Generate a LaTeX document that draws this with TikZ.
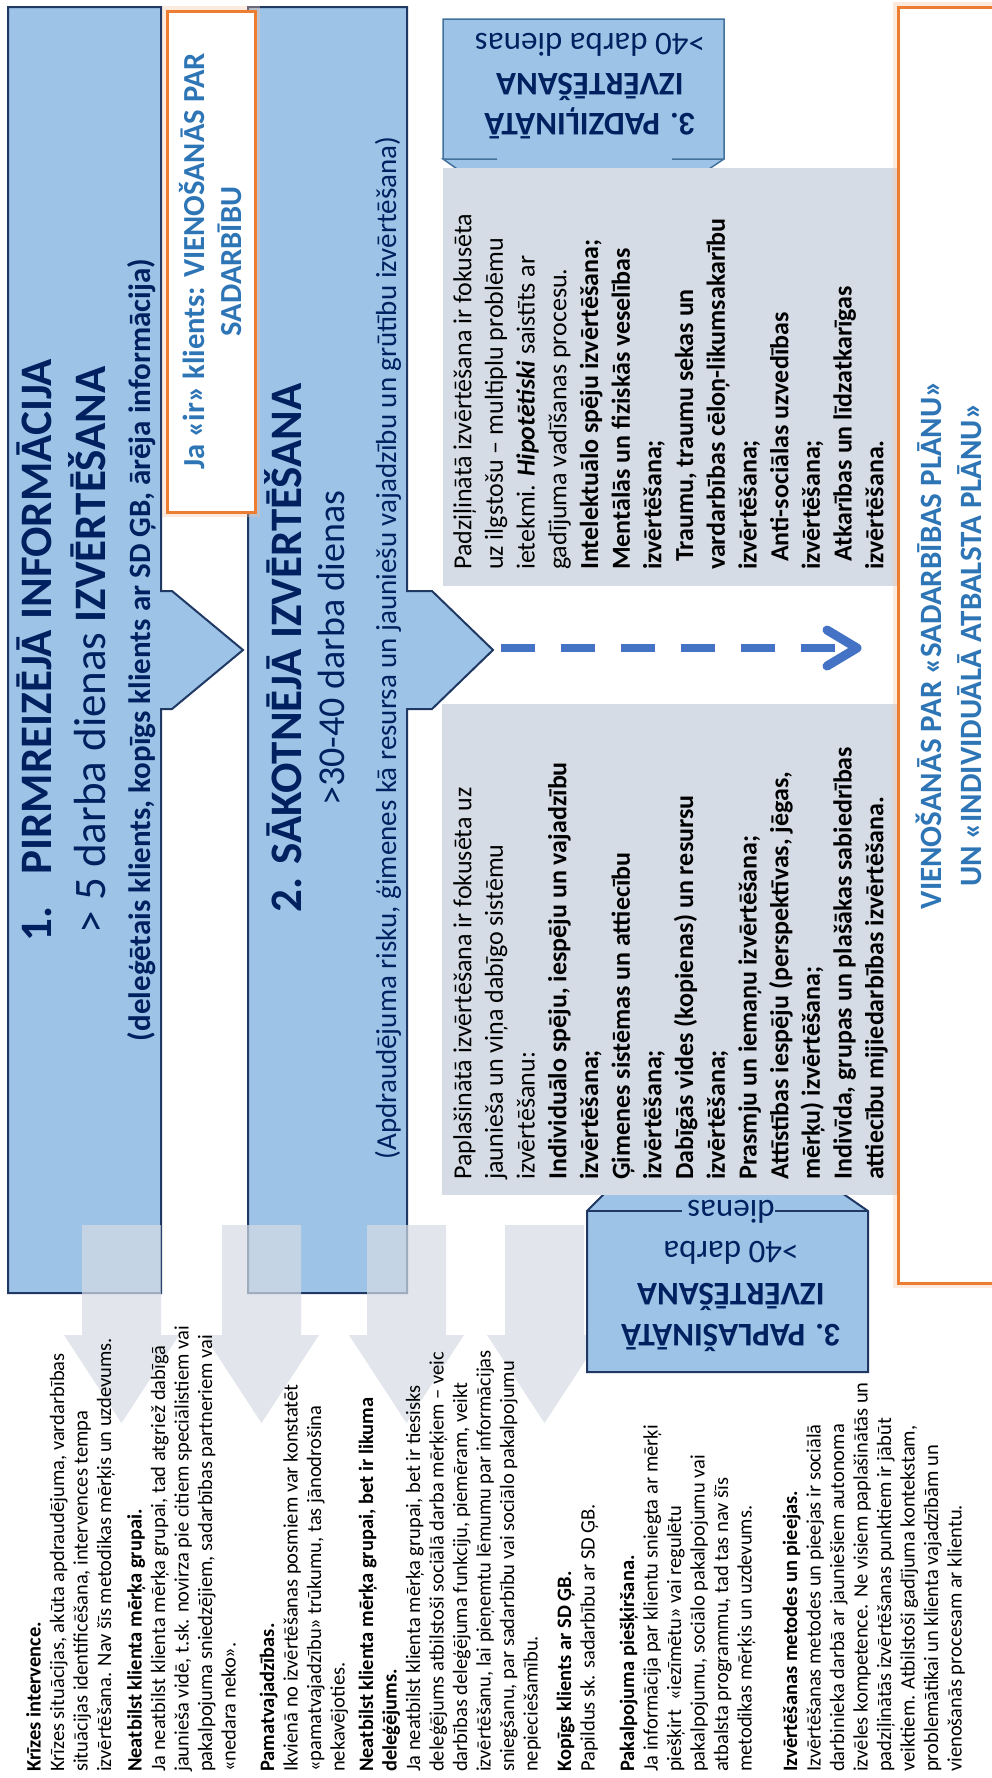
\documentclass[tikz,border=0pt]{standalone}
\usepackage{fontspec}
\setmainfont{Carlito}
\usetikzlibrary{arrows.meta}
\definecolor{boxblue}{RGB}{157,195,230}
\definecolor{boxline}{RGB}{31,56,100}
\definecolor{titlenavy}{RGB}{0,32,96}
\definecolor{steelline}{RGB}{65,113,156}
\definecolor{greyfill}{RGB}{214,220,229}
\definecolor{planorange}{RGB}{237,125,49}
\definecolor{planblue}{RGB}{46,117,182}
\definecolor{dashblue}{RGB}{68,114,196}

\begin{document}
\begin{tikzpicture}[x=1pt,y=-1pt,
  stage/.style={fill=boxblue,draw=boxline,line width=2pt},
  stagetext/.style={rotate=90,anchor=north,inner sep=0pt,align=center,text=titlenavy},
  deeptext/.style={rotate=180,inner sep=0pt,align=center,text=titlenavy},
  greybox/.style={fill=greyfill},
  greytext/.style={rotate=90,anchor=north west,inner sep=0pt,align=left,font=\fontsize{26}{31.7}\selectfont},
  orangebox/.style={rotate=90,draw=planorange,line width=3pt,fill=white,align=center,text=planblue,
    preaction={draw=planorange!45,line width=10pt,opacity=0.35}},
  downarrow/.style={fill=greyfill,opacity=0.7},
  dasharrow/.style={dashblue,line width=8pt,dash pattern=on 34pt off 26pt,
    -{Straight Barb[length=30pt,width=36pt,line width=9pt,round]}}]
  \useasboundingbox (0,0) rectangle (991,1778);
  \fill[white] (0,0) rectangle (991,1778);

  % stage 1 and 2 with their callouts
  \draw[stage] (8,7) -- (161,7) -- (161,591) -- (172,591) -- (243,650) -- (172,709) -- (161,709) -- (161,1293) -- (8,1293) -- cycle;
  \draw[stage] (248,7) -- (407,7) -- (407,591) -- (432,591) -- (493,650) -- (432,709) -- (407,709) -- (407,1293) -- (248,1293) -- cycle;
  \coordinate (tip2) at (493,648);

  \foreach \c in {121.5,261.5,406.5,544.5} % down arrows to the notes
    \fill[downarrow] ({\c-39.5},1225) -- ({\c+39.5},1225) -- ({\c+39.5},1335) -- ({\c+57.5},1335)
      -- (\c,1423) -- ({\c-57.5},1335) -- ({\c-39.5},1335) -- cycle;

  % stage 3 boxes (pointers go under the grey boxes)
  \fill[boxblue] (443,19) -- (724,19) -- (724,159) -- (706,171) -- (460,171) -- (443,159) -- cycle;
  \draw[steelline,line width=1.5pt] (443,159) -- (443,19) -- (724,19) -- (724,159) -- (706,171);
  \draw[steelline,line width=1.5pt] (460,171) -- (443,159) -- (497,159) (672,159) -- (724,159);
  \fill[boxblue] (587,1372) -- (587,1211) -- (605,1193) -- (842,1193) -- (868,1211) -- (868,1372) -- cycle;
  \draw[boxline,line width=2pt] (605,1193) -- (587,1211) -- (587,1372) -- (868,1372) -- (868,1211) -- (842,1193);
  \draw[boxline,line width=2pt] (587,1211) -- (682,1211) (775,1211) -- (868,1211);

  \fill[greybox] (443,168) rectangle (897,586);
  \fill[greybox] (442,704) rectangle (897,1195);

  \node[orangebox,minimum width=1276pt,minimum height=102pt,font=\fontsize{31}{40}\selectfont\bfseries] (plan) at (949,645)
    {VIENOŠANĀS PAR «SADARBĪBAS PLĀNU»\\UN «INDIVIDUĀLĀ ATBALSTA PLĀNU»};
  \node[orangebox,minimum width=501pt,minimum height=88pt,font=\fontsize{30.6}{37}\selectfont\bfseries] (ja) at (211,261.5)
    {Ja «ir» klients: VIENOŠANĀS PAR\\SADARBĪBU};

  \node[stagetext,font=\fontsize{45}{54}\selectfont] (pirm) at (17,650)
    {{\bfseries 1.\hspace{32pt}PIRMREIZĒJĀ INFORMĀCIJA}\\
     > 5 darba dienas \textbf{IZVĒRTĒŠANA}\\[-9pt]
     {\fontsize{31}{37}\selectfont\bfseries (deleģētais klients, kopīgs klients ar SD ĢB, ārēja informācija)}};
  \node[stagetext,font=\fontsize{38}{43}\selectfont] (sakotn) at (264,648)
    {{\fontsize{45}{54}\selectfont\bfseries 2. SĀKOTNĒJĀ IZVĒRTĒŠANA}\\
     >30-40 darba dienas\\[9pt]
     {\fontsize{29}{35}\selectfont (Apdraudējuma risku, ģimenes kā resursa un jauniešu vajadzību un grūtību izvērtēšana)}};
  \node[deeptext,font=\fontsize{33}{40}\selectfont] (padz) at (590,86)
    {\textbf{3. PADZIĻINĀTĀ}\\\textbf{IZVĒRTĒŠANA}\\>40 darba dienas};
  \node[deeptext,font=\fontsize{33}{41.5}\selectfont] (papl) at (731,1276)
    {\textbf{3. PAPLAŠINĀTĀ}\\\textbf{IZVĒRTĒŠANA}\\>40 darba\\dienas};

  \node[greytext] (padzlist) at (453,570)
    {Padziļinātā izvērtēšana ir fokusēta\\
     uz ilgstošu – multiplu problēmu\\
     ietekmi. \textbf{\textit{Hipotētiski}} saistīts ar\\
     gadījuma vadīšanas procesu.\\
     \textbf{Intelektuālo spēju izvērtēšana;}\\
     \textbf{Mentālās un fiziskās veselības}\\
     \textbf{izvērtēšana;}\\
     \hspace*{8pt}\textbf{Traumu, traumu sekas un}\\
     \textbf{vardarbības cēloņ-likumsakarību}\\
     \textbf{izvērtēšana;}\\
     \hspace*{8pt}\textbf{Anti-sociālas uzvedības}\\
     \textbf{izvērtēšana;}\\
     \hspace*{8pt}\textbf{Atkarības un līdzatkarīgas}\\
     \textbf{izvērtēšana.}};
  \node[greytext] (papllist) at (453,1180)
    {Paplašinātā izvērtēšana ir fokusēta uz\\
     jaunieša un viņa dabīgo sistēmu\\
     izvērtēšanu:\\
     \textbf{Individuālo spēju, iespēju un vajadzību}\\
     \textbf{izvērtēšana;}\\
     \textbf{Ģimenes sistēmas un attiecību}\\
     \textbf{izvērtēšana;}\\
     \textbf{Dabīgās vides (kopienas) un resursu}\\
     \textbf{izvērtēšana;}\\
     \textbf{Prasmju un iemaņu izvērtēšana;}\\
     \textbf{Attīstības iespēju (perspektīvas, jēgas,}\\
     \textbf{mērķu) izvērtēšana;}\\
     \textbf{Indivīda, grupas un plašākas sabiedrības}\\
     \textbf{attiecību mijiedarbības izvērtēšana.}};

  % notes under the arrows
  \node[rotate=90,anchor=north west,inner sep=0pt,align=left,font=\fontsize{20.5}{23.5}\selectfont] (notes) at (26,1772)
    {\textbf{Krīzes intervence.}\\
     Krīzes situācijas, akūta apdraudējuma, vardarbības\\
     situācijas identificēšana, intervences tempa\\
     izvērtēšana. Nav šīs metodikas mērķis un uzdevums.\\[7pt]
     \textbf{Neatbilst klienta mērķa grupai.}\\
     Ja neatbilst klienta mērķa grupai, tad atgriež dabīgā\\
     jaunieša vidē, t.sk. novirza pie citiem speciālistiem vai\\
     pakalpojuma sniedzējiem, sadarbības partneriem vai\\
     «nedara neko».\\[15pt]
     \textbf{Pamatvajadzības.}\\
     Ikvienā no izvērtēšanas posmiem var konstatēt\\
     «pamatvajadzību» trūkumu, tas jānodrošina\\
     nekavējoties.\\[5pt]
     \textbf{Neatbilst klienta mērķa grupai, bet ir likuma}\\
     \textbf{deleģējums.}\\
     Ja neatbilst klienta mērķa grupai, bet ir tiesisks\\
     deleģējums atbilstoši sociālā darba mērķiem – veic\\
     darbības deleģējuma funkciju, piemēram, veikt\\
     izvērtēšanu, lai pieņemtu lēmumu par informācijas\\
     sniegšanu, par sadarbību vai sociālo pakalpojumu\\
     nepieciešamību.\\[10pt]
     \textbf{Kopīgs klients ar SD ĢB.}\\
     Papildus sk. sadarbību ar SD ĢB.\\[16pt]
     \textbf{Pakalpojuma piešķiršana.}\\
     Ja informācija par klientu sniegta ar mērķi\\
     piešķirt\ \ «iezīmētu» vai regulētu\\
     pakalpojumu, sociālo pakalpojumu vai\\
     atbalsta programmu, tad tas nav šīs\\
     metodikas mērķis un uzdevums.\\[22pt]
     \textbf{Izvērtēšanas metodes un pieejas.}\\
     Izvērtēšanas metodes un pieejas ir sociālā\\
     darbinieka darbā ar jauniešiem autonoma\\
     izvēles kompetence. Ne visiem paplašinātās un\\
     padziļinātās izvērtēšanas punktiem ir jābūt\\
     veiktiem. Atbilstoši gadījuma kontekstam,\\
     problemātikai un klienta vajadzībām un\\
     vienošanās procesam ar klientu.};

  \draw[dasharrow,shorten <=8pt,shorten >=35pt] (tip2) -- (tip2 -| plan.north);
\end{tikzpicture}
\end{document}
